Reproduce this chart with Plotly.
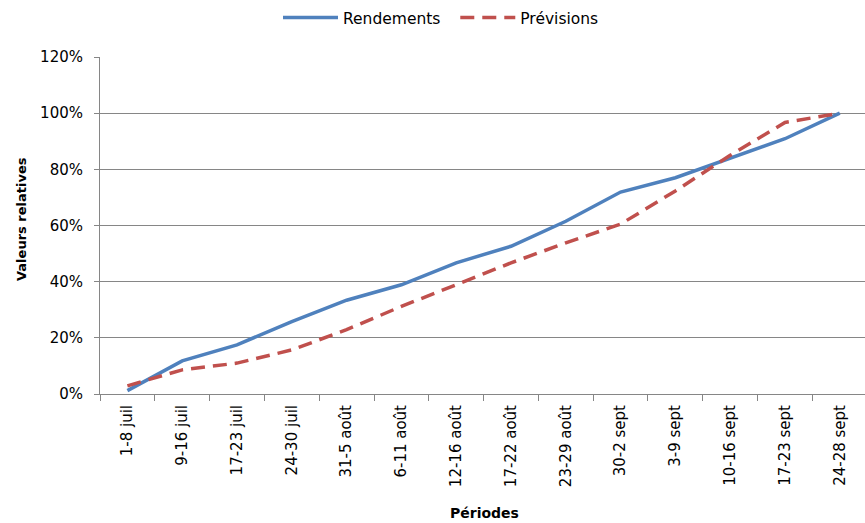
import plotly.graph_objects as go

periodes = ["1-8 juil", "9-16 juil", "17-23 juil", "24-30 juil", "31-5 août",
            "6-11 août", "12-16 août", "17-22 août", "23-29 août", "30-2 sept",
            "3-9 sept", "10-16 sept", "17-23 sept", "24-28 sept"]
rendements = [1.2, 11.8, 17.5, 25.8, 33.4, 38.9, 46.7, 52.6, 61.5, 71.9, 77.0, 84.0, 90.9, 100.0]
previsions = [2.9, 8.6, 11.0, 15.7, 22.9, 31.2, 38.9, 46.7, 53.8, 60.5, 72.3, 85.0, 96.7, 100.0]

FONT = "DejaVu Sans"
GRID = "#868686"

fig = go.Figure()
fig.add_trace(go.Scatter(
    x=periodes, y=[v / 100 for v in rendements], name="Rendements  ", mode="lines",
    line=dict(color="#4F81BD", width=3.5),
))
fig.add_trace(go.Scatter(
    x=periodes, y=[v / 100 for v in previsions], name="Prévisions", mode="lines",
    line=dict(color="#C0504D", width=3.5, dash="14px,8px"),
))

w_plot = 865 - 100
h_plot = 523 - 57 - 129

fig.update_layout(
    width=865, height=523,
    margin=dict(l=100, r=0, t=57, b=129),
    paper_bgcolor="white", plot_bgcolor="white",
    font=dict(family=FONT, size=12, color="#000000"),
    showlegend=True,
    legend=dict(orientation="h", x=(441 - 100) / w_plot, xanchor="center",
                y=1 + (57 - 18) / h_plot, yanchor="middle",
                font=dict(size=15.5), itemwidth=55, bgcolor="rgba(0,0,0,0)"),
    xaxis=dict(
        type="category", range=[-0.5, 13.46], tickson="boundaries",
        ticks="outside", ticklen=6, tickcolor=GRID, tickangle=-90,
        showline=True, linecolor=GRID, linewidth=1, showgrid=False,
        tickfont=dict(size=15), ticklabelstandoff=4,
    ),
    yaxis=dict(
        range=[0, 1.2], dtick=0.2, tickformat=".0%",
        ticks="outside", ticklen=5, tickcolor=GRID,
        showline=True, linecolor=GRID, linewidth=1,
        showgrid=True, gridcolor=GRID, gridwidth=1, zeroline=False,
        ticklabelstandoff=8, tickfont=dict(size=15),
    ),
    annotations=[
        dict(text="<b>Valeurs relatives</b>", xref="paper", yref="paper",
             x=(22 - 100) / w_plot, y=(394 - 219) / h_plot,
             xanchor="center", yanchor="middle",
             showarrow=False, textangle=-90, font=dict(size=13)),
        dict(text="<b>Périodes</b>", xref="paper", yref="paper",
             x=(484 - 100) / w_plot, y=(394 - 513) / h_plot,
             xanchor="center", yanchor="middle",
             showarrow=False, font=dict(size=14)),
    ],
)

fig.write_html("out.html")
